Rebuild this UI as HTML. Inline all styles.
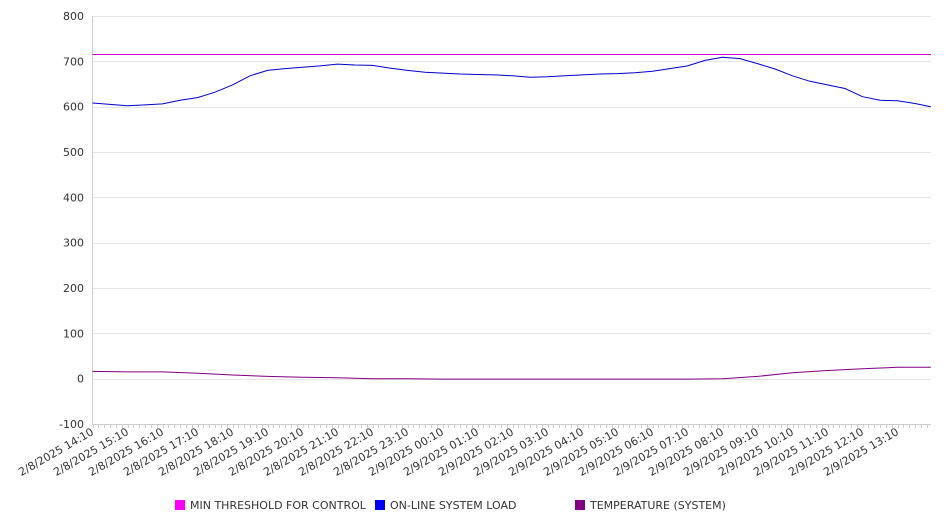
<!DOCTYPE html>
<html><head><meta charset="utf-8"><style>
body{margin:0;background:#fff;font-family:"DejaVu Sans","Liberation Sans",sans-serif;}
svg text{font-family:"DejaVu Sans","Liberation Sans",sans-serif;fill:#333;font-size:11px;}
</style></head><body>
<svg id="chart" width="946" height="526" xmlns="http://www.w3.org/2000/svg"></svg>
<script>
const xLabels=["2/8/2025 14:10","2/8/2025 15:10","2/8/2025 16:10","2/8/2025 17:10","2/8/2025 18:10","2/8/2025 19:10","2/8/2025 20:10","2/8/2025 21:10","2/8/2025 22:10","2/8/2025 23:10","2/9/2025 00:10","2/9/2025 01:10","2/9/2025 02:10","2/9/2025 03:10","2/9/2025 04:10","2/9/2025 05:10","2/9/2025 06:10","2/9/2025 07:10","2/9/2025 08:10","2/9/2025 09:10","2/9/2025 10:10","2/9/2025 11:10","2/9/2025 12:10","2/9/2025 13:10"];
const yTicks=[-100,0,100,200,300,400,500,600,700,800];
const threshold=[717,717];
const loadHours=[0,0.5,1,1.5,2,2.5,3,3.5,4,4.5,5,5.5,6,6.5,7,7.5,8,8.5,9,9.5,10,10.5,11,11.5,12,12.5,13,13.5,14,14.5,15,15.5,16,16.5,17,17.5,18,18.5,19,19.5,20,20.5,21,21.5,22,22.5,23,23.5,23.95];
const loadValues=[608,605,602,604,606,614,620,632,648,668,680,684,687,690,694,692,691,685,680,676,674,672,671,670,668,665,666,668,670,672,673,675,678,684,690,702,709,706,695,683,668,656,648,640,622,614,613,607,600];
const tempHours=[0,1,2,3,4,5,6,7,8,9,10,11,12,13,14,15,16,17,18,19,20,21,22,23,23.95];
const tempValues=[16,15,15,12,8,5,3,2,0,0,-1,-1,-1,-1,-1,-1,-1,-1,0,5,13,18,22,25,25];
const svg=document.getElementById('chart');const NS='http://www.w3.org/2000/svg';
const L=92.5,R=931,T=16,B=424,hourW=35;
const x=h=>L+h*hourW;const y=v=>B-(v+100)/900*(B-T);
const ys=v=>Math.round(y(v))+0.5;
function mk(tag,attrs,parent){const e=document.createElementNS(NS,tag);for(const k in attrs)e.setAttribute(k,attrs[k]);(parent||svg).appendChild(e);return e;}
yTicks.forEach(v=>{
 const g=mk('line',{x1:L,x2:R,y1:ys(v),y2:ys(v),stroke:v===-100?'#ccc':'#e6e6e6'});
 
 
 const t=mk('text',{x:84,y:y(v)+4,'text-anchor':'end'});t.textContent=v;
 
 
});
const ax=mk('line',{x1:L,x2:L,y1:T,y2:B,stroke:'#ccc'});


for(let i=0;i<=24*6;i++){const px=Math.round(L+i*hourW/6)+0.5;if(px>R)break;const m=mk('line',{x1:px,x2:px,y1:B,y2:B+4,stroke:'#ccc'});
 
 }
xLabels.forEach((s,i)=>{const px=x(i);const t=mk('text',{x:0,y:0,'text-anchor':'end',transform:`translate(${px+2},${B+10}) rotate(-30)`});t.textContent=s;
 
 });
function line(hs,vs,color,name,snap){const d=hs.map((h,i)=>(i?'L':'M')+x(h).toFixed(1)+','+(snap?ys(vs[i]):y(vs[i]).toFixed(1))).join('');const p=mk('path',{d,fill:'none',stroke:color,'stroke-width':1});
 
 }
line([0,(R-L)/hourW],threshold,'#d000d0','threshold-line',true);
line(loadHours,loadValues,'#0000cc','load-line');
line(tempHours,tempValues,'#800080','temperature-line');
const leg=[['MIN THRESHOLD FOR CONTROL','#ff00ff',175],['ON-LINE SYSTEM LOAD','#0000ff',375],['TEMPERATURE (SYSTEM)','#800080',575]];
leg.forEach(([n,c,lx])=>{const g=mk('g',{});
 
 
 mk('rect',{x:lx,y:500,width:10,height:10,fill:c},g);const t=mk('text',{x:lx+15,y:509},g);t.textContent=n;});
</script>
</body></html>
